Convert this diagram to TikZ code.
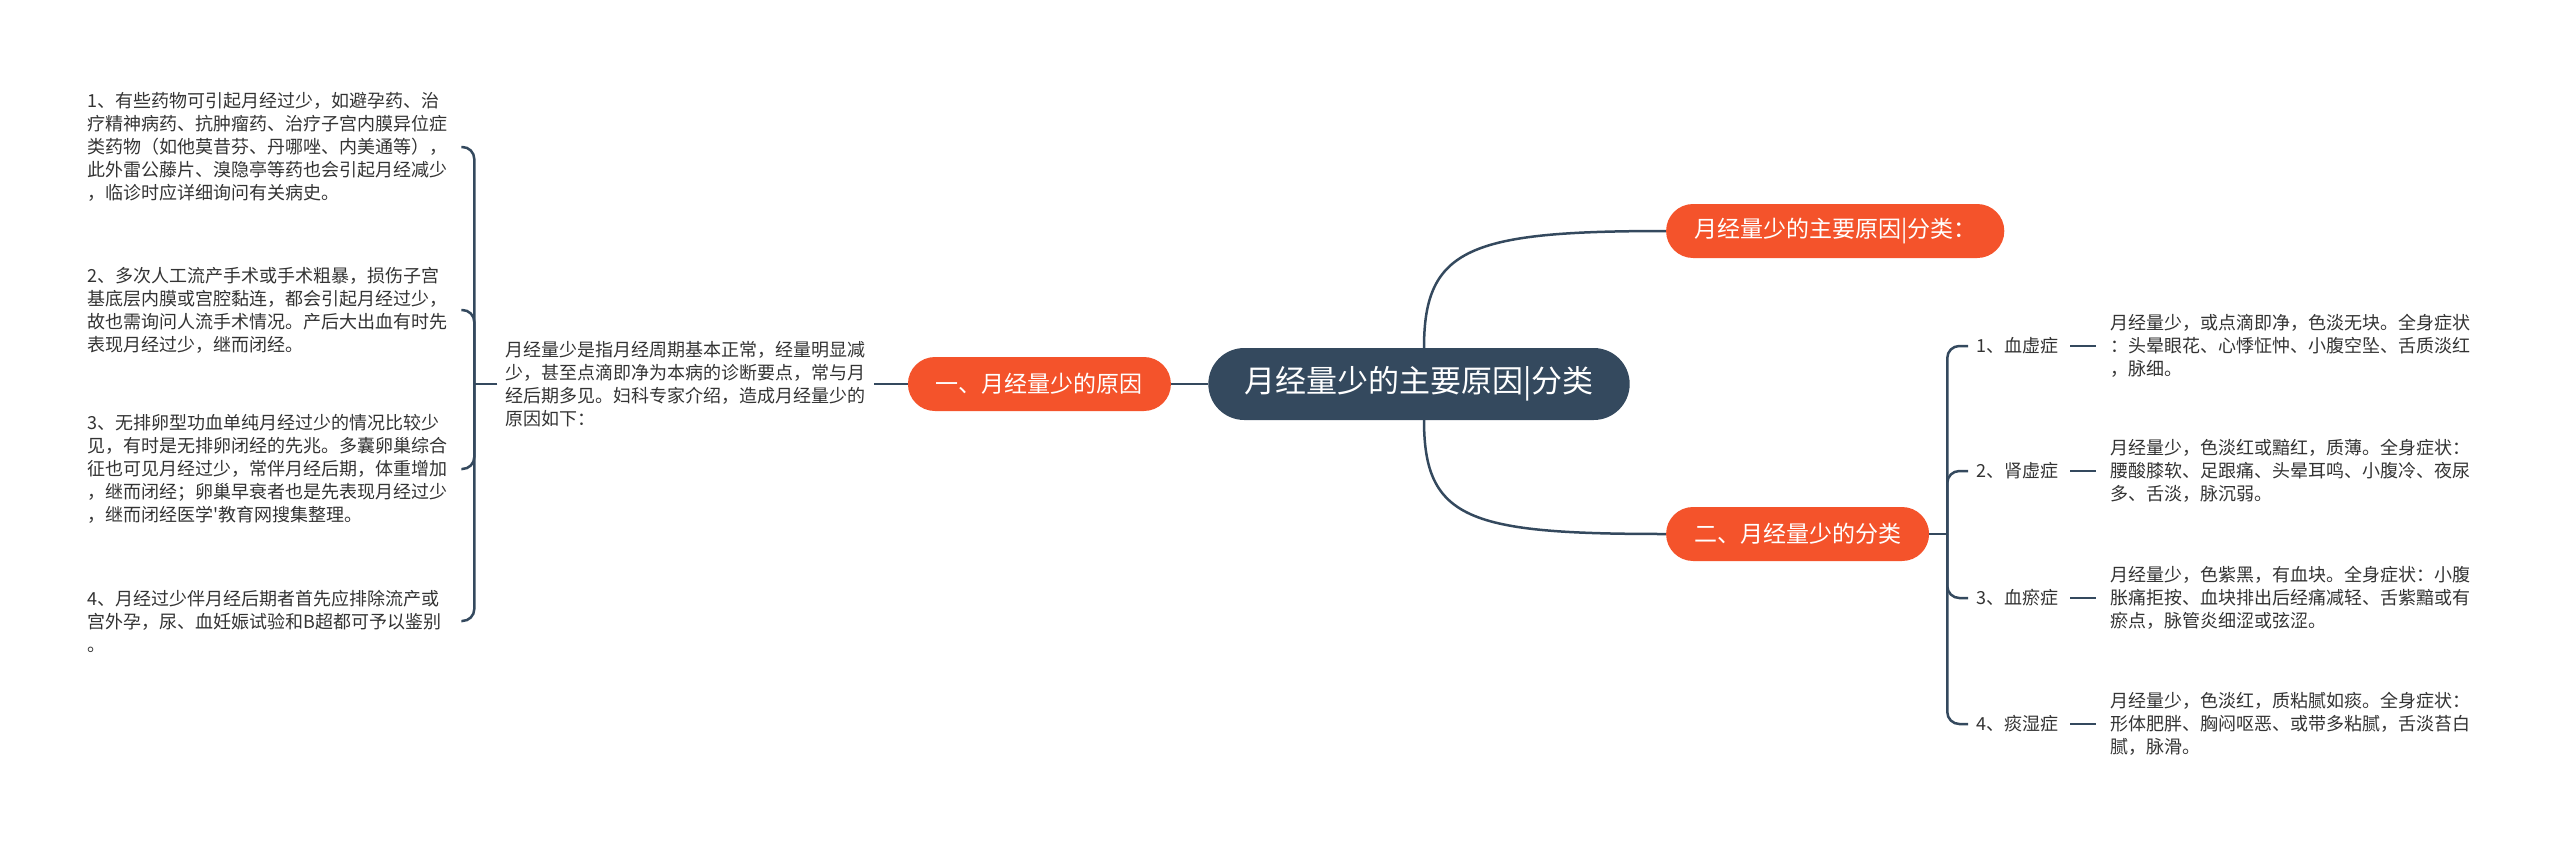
\documentclass[tikz,border=0pt]{standalone}
\usepackage{fontspec}
\newfontfamily\cjk{Noto Sans CJK SC}
\usepackage{tikz}
\usetikzlibrary{positioning,calc}
\usepackage{xcolor}
\definecolor{slate}{HTML}{34495E}
\definecolor{tomato}{HTML}{F4532B}
\definecolor{ink}{HTML}{333333}
\tikzset{
  link/.style={draw=slate, line width=2.5pt, rounded corners=12pt},
  topic/.style={fill=slate, text=white, rounded corners=36pt, minimum height=72pt,
    inner xsep=36pt, font=\cjk\fontsize{31pt}{36pt}\selectfont},
  branch/.style={fill=tomato, text=white, rounded corners=27pt, minimum height=54pt,
    inner xsep=28pt, font=\cjk\fontsize{23pt}{28pt}\selectfont},
  note/.style={text=ink, align=left, inner xsep=8pt, inner ysep=2pt,
    font=\cjk\fontsize{18pt}{23pt}\selectfont},
  leftnote/.style={note, text width=372pt},
  kind/.style={text=ink, inner xsep=4pt, font=\cjk\fontsize{18pt}{23pt}\selectfont},
}

\begin{document}
\begin{tikzpicture}[x=1pt, y=1pt, node distance=36pt]
\useasboundingbox (0,0) rectangle (2560,-847);

\node[topic] (root) at (1419,-384) {月经量少的主要原因|分类};
\node[branch, left=37pt of root] (cause) {一、月经量少的原因};
\node[branch, right=36pt of root, yshift=153pt] (title) {月经量少的主要原因|分类：};
\node[branch, right=36pt of root, yshift=-150pt] (kinds) {二、月经量少的分类};

\node[note, left=34pt of cause] (intro) {月经量少是指月经周期基本正常，经量明显减\\
少，甚至点滴即净为本病的诊断要点，常与月\\经后期多见。妇科专家介绍，造成月经量少的\\原因如下：};
\coordinate[left=23pt of intro] (lj);
\coordinate[right=18pt of kinds] (rj);

% causes
\node[leftnote, anchor=west] (c1) at (79,-147) {1、有些药物可引起月经过少，如避孕药、治\\
疗精神病药、抗肿瘤药、治疗子宫内膜异位症\\类药物（如他莫昔芬、丹哪唑、内美通等），\\
此外雷公藤片、溴隐亭等药也会引起月经减少\\，临诊时应详细询问有关病史。};
\node[leftnote, anchor=west] (c2) at (79,-310) {2、多次人工流产手术或手术粗暴，损伤子宫\\
基底层内膜或宫腔黏连，都会引起月经过少，\\故也需询问人流手术情况。产后大出血有时先\\表现月经过少，继而闭经。};
\node[leftnote, anchor=west] (c3) at (79,-469) {3、无排卵型功血单纯月经过少的情况比较少\\
见，有时是无排卵闭经的先兆。多囊卵巢综合\\征也可见月经过少，常伴月经后期，体重增加\\
，继而闭经；卵巢早衰者也是先表现月经过少\\，继而闭经医学{\char"0027}教育网搜集整理。};
\node[leftnote, anchor=west] (c4) at (79,-621) {4、月经过少伴月经后期者首先应排除流产或\\
宫外孕，尿、血妊娠试验和B超都可予以鉴别\\。};

% kinds
\node[kind, anchor=west] (k1) at (1972,-346) {1、血虚症};
\node[kind, anchor=west] (k2) at (1972,-471) {2、肾虚症};
\node[kind, anchor=west] (k3) at (1972,-598) {3、血瘀症};
\node[kind, anchor=west] (k4) at (1972,-724) {4、痰湿症};
\node[note, right=40pt of k1] (d1) {月经量少，或点滴即净，色淡无块。全身症状\\
：头晕眼花、心悸怔忡、小腹空坠、舌质淡红\\，脉细。};
\node[note, right=40pt of k2] (d2) {月经量少，色淡红或黯红，质薄。全身症状：\\
腰酸膝软、足跟痛、头晕耳鸣、小腹冷、夜尿\\多、舌淡，脉沉弱。};
\node[note, right=40pt of k3] (d3) {月经量少，色紫黑，有血块。全身症状：小腹\\
胀痛拒按、血块排出后经痛减轻、舌紫黯或有\\瘀点，脉管炎细涩或弦涩。};
\node[note, right=40pt of k4] (d4) {月经量少，色淡红，质粘腻如痰。全身症状：\\
形体肥胖、胸闷呕恶、或带多粘腻，舌淡苔白\\腻，脉滑。};

\draw[link] (root) -- (cause);
\draw[link] ([xshift=5pt]root.north) .. controls ($(root.north)+(5pt,100pt)$) and ($(title.west)+(-196pt,0)$) .. (title.west);
\draw[link] ([xshift=5pt]root.south) .. controls ($(root.south)+(5pt,-100pt)$) and ($(kinds.west)+(-196pt,0)$) .. (kinds.west);
\draw[link] (cause) -- (intro);
\draw[link] (intro) -- (lj);
\foreach \c in {c1,c2,c3,c4}
  \draw[link, shorten >=6pt] (lj) |- (\c.east);
\draw[link] (kinds) -- (rj);
\foreach \k in {k1,k2,k3,k4}
  \draw[link, shorten >=4pt] (rj) |- (\k.west);
\foreach \k/\d in {k1/d1,k2/d2,k3/d3,k4/d4}
  \draw[link, shorten <=8pt, shorten >=6pt] (\k) -- (\d);
\end{tikzpicture}
\end{document}
